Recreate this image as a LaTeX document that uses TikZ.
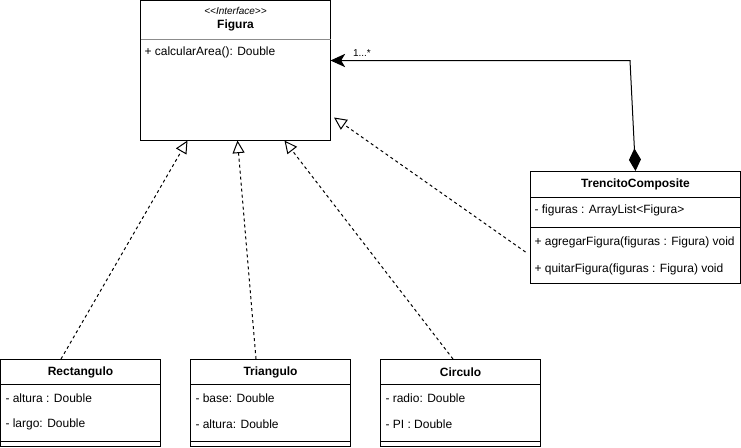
\documentclass[tikz,border=0pt]{standalone}
\usepackage{fontspec}
\setmainfont{Liberation Sans}
\usepackage{xcolor}
\usepackage{tikz}
\usetikzlibrary {positioning}
\usetikzlibrary{arrows.meta,calc}
\tikzset{realize/.style = {dash pattern=on 2.25pt off 2.25pt,-{Triangle[open,length=9.5pt,width=9pt]}}}
\tikzset{compose/.style = {{Diamond[length=17pt,width=9pt]}-{Stealth[length=11pt,width=10pt,inset=3pt]}}}

\begin{document}
\begin{tikzpicture}[x=0.75pt,y=-0.75pt,line width=0.75pt,
                    class node/.style={draw,rectangle,inner sep=0,outer sep=0,anchor=north west},
                    small node/.style={class node,minimum width=120pt,minimum height=65.25pt},
                    title/.style={inner sep=0,font=\fontsize{9}{11}\selectfont\bfseries},
                    member/.style={inner sep=0,anchor=west,font=\fontsize{9}{11}\selectfont},
                    mult/.style={inner sep=0,anchor=south west,xshift=16.5pt,yshift=3pt,font=\fontsize{7.5}{9}\selectfont}]
                    \useasboundingbox (0,0) rectangle (741,447);

                    % interface
                    \node[class node,minimum width=142.5pt,minimum height=105pt] (figura) at (140.5,0.5) {};
                    \node[inner sep=0,font=\fontsize{7.5}{9}\selectfont\itshape] (stereo) at ($(figura.north)+(0,10.5)$) {<\kern0pt<Interface>\kern0pt>};
                    \node[title] (figuratitle) at ($(figura.north)+(0,24.5)$) {Figura};
                    \draw[black!45] ($(figura.north west)+(0,39)$) -- ($(figura.north east)+(0,39)$);
                    \node[member] (area) at ($(figura.north west)+(3.5,51.5)$) {+ calcularArea(): Double};

                    % composite
                    \node[class node,minimum width=157.5pt,minimum height=84pt] (trencito) at (530.5,171) {};
                    \node[title] (trencitotitle) at ($(trencito.north)+(0,13)$) {TrencitoComposite};
                    \draw ($(trencito.north west)+(0,26)$) -- ($(trencito.north east)+(0,26)$);
                    \node[member] (figuras) at ($(trencito.north west)+(3.5,39)$) {- figuras : ArrayList<Figura>};
                    \draw ($(trencito.north west)+(0,56)$) -- ($(trencito.north east)+(0,56)$);
                    \node[member] (agregar) at ($(trencito.north west)+(3.5,71)$) {+ agregarFigura(figuras : Figura) void};
                    \node[member] (quitar) at ($(trencito.north west)+(3.5,98)$) {+ quitarFigura(figuras : Figura) void};

                    % shapes
                    \node[small node] (rect) at (0.5,359) {};
                    \node[small node] (tri) [right=22.5pt of rect] {};
                    \node[small node] (circ) [right=22.5pt of tri] {};

                    \node[title] (recttitle) at ($(rect.north)+(0,13)$) {Rectangulo};
                    \node[member] (altura) at ($(rect.north west)+(4.5,39)$) {- altura : Double};
                    \node[member] (largo) at ($(rect.north west)+(4.5,65)$) {- largo: Double};
                    \node[title] (trititle) at ($(tri.north)+(0,13)$) {Triangulo};
                    \node[member] (base) at ($(tri.north west)+(4.5,39)$) {- base: Double};
                    \node[member] (alturatri) at ($(tri.north west)+(4.5,65)$) {- altura: Double};
                    \node[title] (circtitle) at ($(circ.north)+(0,13)$) {Circulo};
                    \node[member] (radio) at ($(circ.north west)+(4.5,39)$) {- radio: Double};
                    \node[member] (pi) at ($(circ.north west)+(4.5,65)$) {- PI : Double};

                    \draw ($(rect.north west)+(0,25.5)$) -- ($(rect.north east)+(0,25.5)$);
                    \draw ($(rect.north west)+(0,82)$) -- ($(rect.north east)+(0,82)$);
                    \draw ($(tri.north west)+(0,25.5)$) -- ($(tri.north east)+(0,25.5)$);
                    \draw ($(tri.north west)+(0,82)$) -- ($(tri.north east)+(0,82)$);
                    \draw ($(circ.north west)+(0,25.5)$) -- ($(circ.north east)+(0,25.5)$);
                    \draw ($(circ.north west)+(0,82)$) -- ($(circ.north east)+(0,82)$);

                    % connectors
                    \coordinate (bend) at (630,60.5);
                    \draw[compose] (trencito.north) -- (bend) -- (figura.east |- bend) node[mult] {1...*};
                    \draw[realize] ($(rect.north)+(-19.5,0)$) -- ($(figura.south)+(-48,0)$);
                    \draw[realize] ($(tri.north)+(-14.5,0)$) -- ($(figura.south)+(2,0)$);
                    \draw[realize] ($(circ.north)+(-7.5,0)$) -- ($(figura.south)+(49,0)$);
                    \draw[realize] ($(trencito.south west)+(-5,-31)$) -- ($(figura.east)+(3.5,47)$);
                \end{tikzpicture}
\end{document}
